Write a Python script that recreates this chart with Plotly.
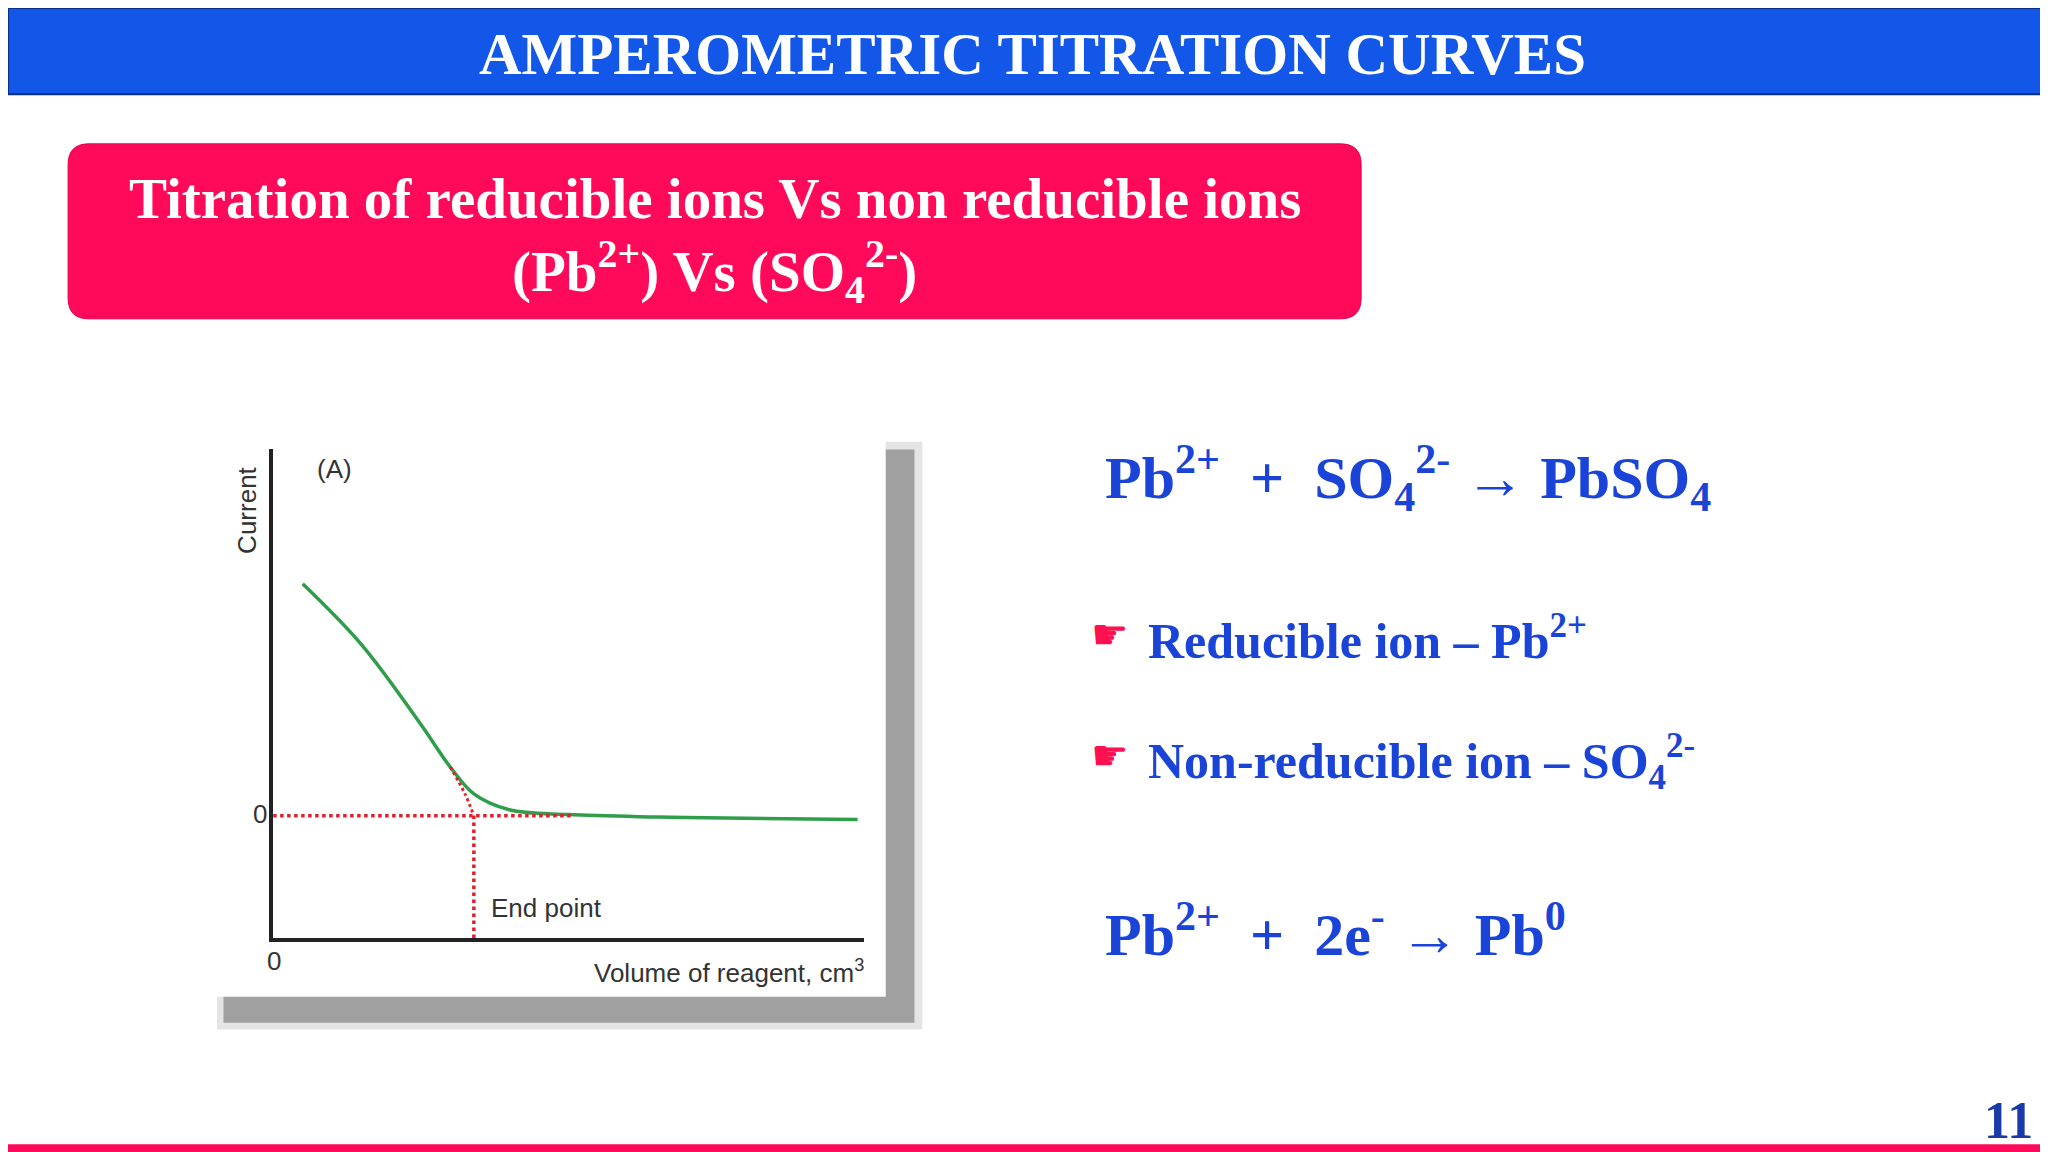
import plotly.graph_objects as go

# data
vol = [0.5, 1.5, 2.5, 3.0, 3.4, 4.0, 5.0, 6.5, 8.0, 9.9]
cur = [1.9, 1.4, 0.75, 0.40, 0.18, 0.05, 0.01, -0.01, -0.02, -0.03]
extrap_x = [3.0, 3.25, 3.4]
extrap_y = [0.40, 0.18, 0.0]
end_point = 3.4
zero_line_end = 5.1

W, H = 2048, 1152
S = 2048 / 1568
def px(x): return x / 1568
def py(y): return 1 - y / 882

fig = go.Figure()
fig.add_trace(go.Scatter(x=vol, y=cur, mode="lines", line=dict(color="#2e9e4a", width=3.5), line_shape="spline", hoverinfo="skip"))
fig.add_trace(go.Scatter(x=[0, zero_line_end], y=[0, 0], mode="lines", line=dict(color="#e0202a", width=3.5, dash="dot"), hoverinfo="skip"))
fig.add_trace(go.Scatter(x=[end_point, end_point], y=[-1, 0], mode="lines", line=dict(color="#e0202a", width=3.5, dash="dot"), hoverinfo="skip"))
fig.add_trace(go.Scatter(x=extrap_x, y=extrap_y, mode="lines", line=dict(color="#e0202a", width=3, dash="dot"), line_shape="spline", hoverinfo="skip"))

shapes = [
    dict(type="rect", xref="paper", yref="paper", x0=0, x1=1, y0=py(66), y1=1, fillcolor="#1257e8", line=dict(color="#0a2f8a", width=2), layer="below"),
    dict(type="rect", xref="paper", yref="paper", x0=0, x1=1, y0=0, y1=py(870), fillcolor="#ff0a5a", line=dict(width=0), layer="below"),
    dict(type="path", xref="paper", yref="paper",
         path=f"M {px(62)} {py(104)} L {px(1020)} {py(104)} Q {px(1036)} {py(104)} {px(1036)} {py(120)} L {px(1036)} {py(222)} Q {px(1036)} {py(238)} {px(1020)} {py(238)} L {px(62)} {py(238)} Q {px(46)} {py(238)} {px(46)} {py(222)} L {px(46)} {py(120)} Q {px(46)} {py(104)} {px(62)} {py(104)} Z",
         fillcolor="#ff0a5a", line=dict(color="#e00050", width=1), layer="below"),
    dict(type="rect", xref="paper", yref="paper", x0=px(160), x1=px(700), y0=py(782), y1=py(332), fillcolor="#e4e4e4", line=dict(width=0), layer="below"),
    dict(type="rect", xref="paper", yref="paper", x0=px(165), x1=px(694), y0=py(777), y1=py(338), fillcolor="#a0a0a0", line=dict(width=0), layer="below"),
    dict(type="rect", xref="paper", yref="paper", x0=px(148), x1=px(672), y0=py(757), y1=py(323), fillcolor="white", line=dict(width=0), layer="below"),
]

serif = "Liberation Serif, Times New Roman, serif"
sans = "Liberation Sans, Arial, sans-serif"
blue = "#1a44d8"
ann = [
    dict(text="<b>AMPEROMETRIC TITRATION CURVES</b>", x=px(784), y=py(35), size=45, color="white", family=serif),
    dict(text="<b>Titration of reducible ions Vs non reducible ions</b>", x=px(541), y=py(146), size=44, color="white", family=serif),
    dict(text="<b>(Pb<sup>2+</sup>) Vs (SO<sub>4</sub><sup>2-</sup>)</b>", x=px(541), y=py(202), size=44, color="white", family=serif),
    dict(text="<b>Pb<sup>2+</sup>  +  SO<sub>4</sub><sup>2-</sup> → PbSO<sub>4</sub></b>", x=px(838), y=py(360), xanchor="left", size=46, color=blue, family=serif),
    dict(text="☛", x=px(828), y=py(480), xanchor="left", size=32, color="#ff1050", family="DejaVu Sans"),
    dict(text="<b>Reducible ion – Pb<sup>2+</sup></b>", x=px(871), y=py(482), xanchor="left", size=38, color=blue, family=serif),
    dict(text="☛", x=px(828), y=py(572), xanchor="left", size=32, color="#ff1050", family="DejaVu Sans"),
    dict(text="<b>Non-reducible ion – SO<sub>4</sub><sup>2-</sup></b>", x=px(871), y=py(577), xanchor="left", size=38, color=blue, family=serif),
    dict(text="<b>Pb<sup>2+</sup>  +  2e<sup>-</sup> → Pb<sup>0</sup></b>", x=px(838), y=py(706), xanchor="left", size=46, color=blue, family=serif),
    dict(text="<b>11</b>", x=px(1552), y=py(852), xanchor="right", size=40, color="#1a3aa8", family=serif),
    dict(text="(A)", x=px(235), y=py(353), xanchor="left", size=20, color="#333", family=sans),
    dict(text="Current", x=px(183), y=py(385), textangle=-90, size=20, color="#333", family=sans),
    dict(text="0", x=px(193), y=py(617), size=20, color="#333", family=sans),
    dict(text="0", x=px(204), y=py(730), size=20, color="#333", family=sans),
    dict(text="End point", x=px(368), y=py(689), xanchor="left", size=20, color="#333", family=sans),
    dict(text="Volume of reagent, cm<sup>3</sup>", x=px(657), y=py(738), xanchor="right", size=20, color="#333", family=sans),
]
annotations = []
for a in ann:
    annotations.append(dict(text=a["text"], x=a["x"], y=a["y"], xref="paper", yref="paper", showarrow=False,
                            xanchor=a.get("xanchor", "center"), yanchor="middle", textangle=a.get("textangle", 0),
                            font=dict(size=round(a["size"] * S), color=a["color"], family=a["family"])))

fig.update_layout(
    width=W, height=H, margin=dict(l=0, r=0, t=0, b=0),
    paper_bgcolor="white", plot_bgcolor="rgba(0,0,0,0)", showlegend=False,
    shapes=shapes, annotations=annotations,
    xaxis=dict(domain=[px(203), px(655)], range=[0, 10], showgrid=False, zeroline=False, showticklabels=False,
               showline=True, linecolor="#222", linewidth=4, ticks=""),
    yaxis=dict(domain=[py(712), py(338)], range=[-1, 3], showgrid=False, zeroline=False, showticklabels=False,
               showline=True, linecolor="#222", linewidth=4, ticks=""),
)
fig.write_html("out.html")
